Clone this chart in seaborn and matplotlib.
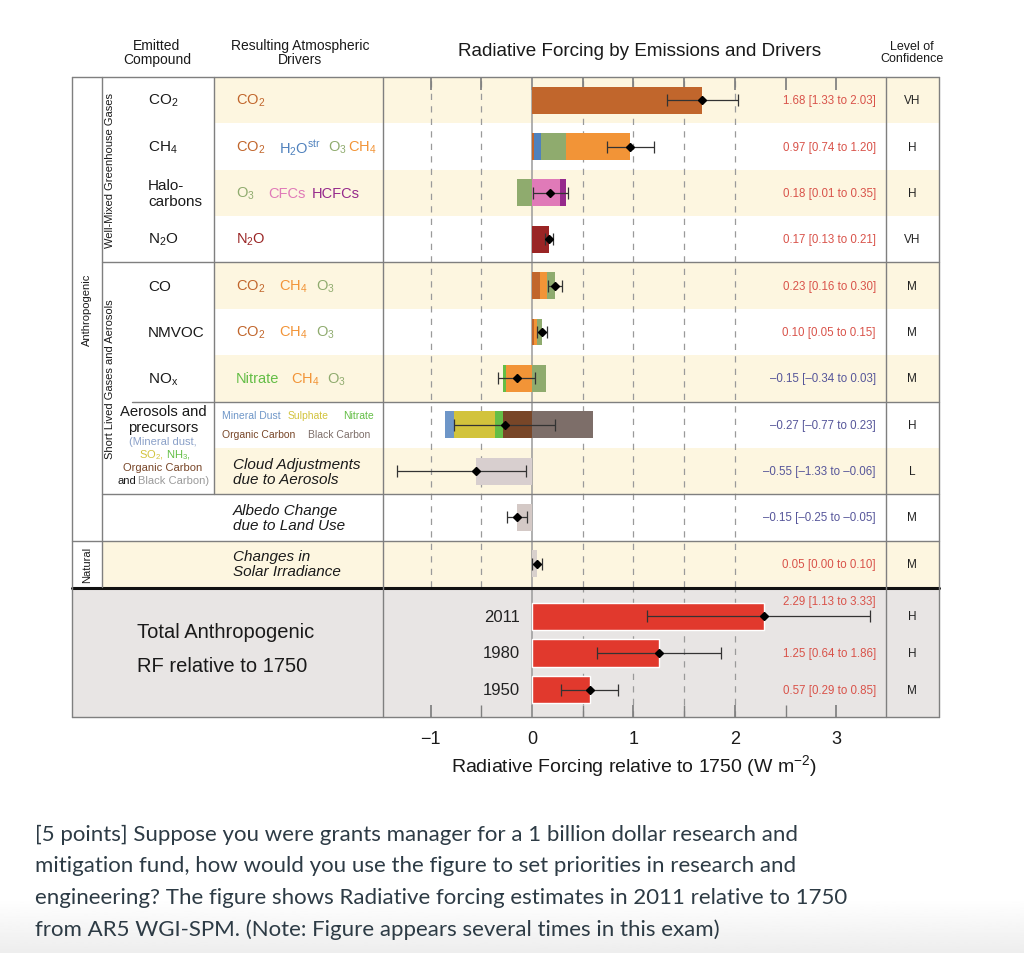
import numpy as np
import pandas as pd
import seaborn as sns
import matplotlib.pyplot as plt
from matplotlib.lines import Line2D
from matplotlib.patches import Rectangle
from matplotlib.transforms import blended_transform_factory

# ---- data ----
rows = ["CO2", "CH4", "Halocarbons", "N2O", "CO", "NMVOC", "NOx",
        "Aerosols", "Cloud", "Albedo", "Solar"]
best = [1.68, 0.97, 0.18, 0.17, 0.23, 0.10, -0.15, -0.27, -0.55, -0.15, 0.05]
low = [1.33, 0.74, 0.01, 0.13, 0.16, 0.05, -0.34, -0.77, -1.33, -0.25, 0.00]
high = [2.03, 1.20, 0.35, 0.21, 0.30, 0.15, 0.03, 0.23, -0.06, -0.05, 0.10]
confidence = ["VH", "H", "H", "VH", "M", "M", "M", "H", "L", "M", "M"]

# driver contributions, stacked outwards from zero in list order
drivers = {
    "CO2": [("CO2", 1.68)],
    "CH4": [("CO2", 0.02), ("H2O", 0.07), ("O3", 0.24), ("CH4", 0.64)],
    "Halocarbons": [("O3", -0.15), ("CFC", 0.28), ("HCFC", 0.05)],
    "N2O": [("N2O", 0.17)],
    "CO": [("CO2", 0.08), ("CH4", 0.07), ("O3", 0.08)],
    "NMVOC": [("CO2", 0.02), ("CH4", 0.03), ("O3", 0.05)],
    "NOx": [("CH4", -0.26), ("Nitrate", -0.03), ("O3", 0.14)],
    "Aerosols": [("OC", -0.29), ("Nitrate", -0.08), ("Sulphate", -0.40),
                 ("Dust", -0.09), ("BC", 0.60)],
    "Cloud": [("Cloud", -0.55)],
    "Albedo": [("Albedo", -0.15)],
    "Solar": [("Solar", 0.05)],
}

years = ["2011", "1980", "1950"]
total_best = [2.29, 1.25, 0.57]
total_low = [1.13, 0.64, 0.29]
total_high = [3.33, 1.86, 0.85]
total_conf = ["H", "H", "M"]

colors = {
    "CO2": "#c1662c", "H2O": "#4f81bd", "O3": "#8fab6e", "CH4": "#f29437",
    "CFC": "#e07ab8", "HCFC": "#962a8c", "N2O": "#9a2525",
    "Nitrate": "#64be46", "Dust": "#6e96c8", "Sulphate": "#d2c33c",
    "OC": "#784628", "BC": "#7d6e69", "Cloud": "#d8cfcf",
    "Albedo": "#d4c9c6", "Solar": "#d8d0cc",
}
CREAM = "#fdf6e0"
GREYBG = "#e8e5e4"
LINE = "#7f7f7f"
POS = "#d9534a"
NEG = "#56569a"

sns.set_theme(style="white")
plt.rcParams["font.family"] = ["Liberation Sans", "DejaVu Sans"]
plt.rcParams["mathtext.default"] = "regular"

W, H = 1024, 954
fig = plt.figure(figsize=(W / 100, H / 100), dpi=100)


def fx(x):
    return x / W


def fy(y):
    return 1 - y / H


def T(x, y, s, **kw):
    kw.setdefault("ha", "left")
    kw.setdefault("va", "center")
    kw.setdefault("color", "#1a1a1a")
    return fig.text(fx(x), fy(y), s, **kw)


def hline(y, x0, x1, lw=1.0, color=LINE):
    fig.add_artist(Line2D([fx(x0), fx(x1)], [fy(y), fy(y)],
                          transform=fig.transFigure, color=color, lw=lw, zorder=2))


def vline(x, y0, y1, lw=1.0, color=LINE):
    fig.add_artist(Line2D([fx(x), fx(x)], [fy(y0), fy(y1)],
                          transform=fig.transFigure, color=color, lw=lw, zorder=2))


def box(x0, y0, x1, y1, color):
    fig.add_artist(Rectangle((fx(x0), fy(y1)), (x1 - x0) / W, (y1 - y0) / H,
                             transform=fig.transFigure, facecolor=color,
                             lw=0, zorder=-1))


def fmt(v):
    s = f"{abs(v):.2f}"
    return "\u2013" + s if v < 0 else s


# layout (pixels)
TOP, MID, BOT = 78, 588, 718
XL, XA, XD, XP, XC, XR = 72, 102, 214, 383, 886, 939
N = len(rows)
RH = (MID - TOP) / N
XLIM = (-1.47, 3.49)


def edge(i):
    return TOP + i * RH


# ---- backgrounds ----
for i in range(0, N - 1, 2):
    box(XD, edge(i), XR, edge(i + 1), CREAM)
box(XA, edge(N - 1), XR, MID, CREAM)
box(XL, MID, XR, BOT, GREYBG)

# ---- main axes (individual drivers) ----
ax = fig.add_axes([fx(XP), fy(MID), (XC - XP) / W, (MID - TOP) / H])
ax.set_facecolor("none")
for i, r in enumerate(rows):
    pos, neg = 0.0, 0.0
    for d, v in drivers[r]:
        left = pos if v >= 0 else neg
        ax.barh(i, v, left=left, height=0.58, color=colors[d], lw=0, zorder=2)
        if v >= 0:
            pos += v
        else:
            neg += v
b = np.array(best)
ax.errorbar(b, np.arange(N), xerr=[b - np.array(low), np.array(high) - b],
            fmt="D", color="black", ms=4.5, ecolor="#333333", elinewidth=0.9,
            capsize=4.5, capthick=0.9, zorder=3)
for i in range(N):
    ax.text(3.39, i, f"{fmt(best[i])} [{fmt(low[i])} to {fmt(high[i])}]",
            ha="right", va="center", fontsize=8.3,
            color=POS if best[i] > 0 else NEG)
for v in [-1, -0.5, 0.5, 1, 1.5, 2]:
    ax.axvline(v, color="#9a9a9a", ls=(0, (5, 5)), lw=0.9, zorder=0)
ax.axvline(0, color="#9a9a9a", lw=1.1, zorder=1)
ax.set_xlim(*XLIM)
ax.set_ylim(N - 0.5, -0.5)
ax.set_yticks([])
ax.set_xticks(np.arange(-1, 3.01, 0.5))
ax.xaxis.set_ticks_position("top")
ax.tick_params(axis="x", which="both", direction="in", length=9, top=True,
               bottom=False, labeltop=False, labelbottom=False, color=LINE)
for s in ax.spines.values():
    s.set_visible(False)

# ---- totals axes ----
axb = fig.add_axes([fx(XP), fy(BOT), (XC - XP) / W, (BOT - MID - 2) / H])
axb.set_facecolor("none")
df = pd.DataFrame({"year": years, "rf": total_best})
sns.barplot(data=df, x="rf", y="year", orient="h", color="#e1392d",
            saturation=1, width=0.74, ax=axb, zorder=2)
tb = np.array(total_best)
axb.errorbar(tb, np.arange(3), xerr=[tb - np.array(total_low), np.array(total_high) - tb],
             fmt="D", color="black", ms=4.5, ecolor="#333333", elinewidth=0.9,
             capsize=4.5, capthick=0.9, zorder=3)
for v in [0.5, 1, 1.5, 2]:
    axb.axvline(v, color="#9a9a9a", ls=(0, (5, 5)), lw=0.9, zorder=0)
axb.axvline(0, color="#9a9a9a", lw=1.1, zorder=1)
for j, yr in enumerate(years):
    axb.text(-0.12, j, yr, ha="right", va="center", fontsize=12, color="#222222")
    axb.text(3.39, -0.42 if j == 0 else j,
             f"{fmt(total_best[j])} [{fmt(total_low[j])} to {fmt(total_high[j])}]",
             ha="right", va="center", fontsize=8.3, color=POS)
axb.set_xlim(*XLIM)
axb.set_ylim(2.75, -0.75)
axb.set_yticks([])
axb.set_ylabel("")
axb.set_xticks([-1, 0, 1, 2, 3])
axb.set_xticks(np.arange(-1, 3.01, 0.5), minor=True)
axb.tick_params(axis="x", which="both", direction="in", length=9, bottom=True,
                color=LINE, labelsize=13, labelcolor="#1a1a1a", pad=9)
axb.set_xlabel("Radiative Forcing relative to 1750 (W m$^{-2}$)", fontsize=14,
               color="#1a1a1a", labelpad=4)
for s in axb.spines.values():
    s.set_visible(False)

# ---- table lines ----
hline(TOP, XL, XR)
hline(edge(4), XA, XR)
hline(edge(7), 132, XR)
hline(edge(9), XA, XR)
hline(edge(10), XL, XR)
hline(MID + 1, XL, XR, lw=2.2, color="#111111")
hline(BOT, XL, XR)
vline(XL, TOP, BOT)
vline(XA, TOP, MID)
vline(XD, TOP, edge(9))
vline(XP, TOP, BOT)
vline(XC, TOP, BOT)
vline(XR, TOP, BOT)

# ---- headers ----
T(157, 53, "Emitted\nCompound", ha="center", fontsize=10, linespacing=1.05)
T(300, 53, "Resulting Atmospheric\nDrivers", ha="center", fontsize=10, linespacing=1.05)
T(640, 52, "Radiative Forcing by Emissions and Drivers", ha="center", fontsize=13.6)
T(912, 53, "Level of\nConfidence", ha="center", fontsize=9, linespacing=1.05)

# rotated group labels
T(87, (TOP + edge(10)) / 2, "Anthropogenic", ha="center", rotation=90, fontsize=8)
T(87, (edge(10) + MID) / 2, "Natural", ha="center", rotation=90, fontsize=8)
T(110, (TOP + edge(4)) / 2, "Well-Mixed Greenhouse Gases", ha="center", rotation=90, fontsize=8)
T(110, (edge(4) + edge(9)) / 2, "Short Lived Gases and Aerosols", ha="center", rotation=90, fontsize=8)

tr = blended_transform_factory(fig.transFigure, ax.transData)
trb = blended_transform_factory(fig.transFigure, axb.transData)

compounds = ["CO$_2$", "CH$_4$", "Halo-\ncarbons", "N$_2$O", "CO", "NMVOC", "NO$_x$"]
for i, c in enumerate(compounds):
    fig.text(fx(148), i, c, transform=tr, ha="left", va="center", fontsize=11,
             color="#1a1a1a", linespacing=1.15)

# aerosol precursor label
T(163, 412, "Aerosols and", ha="center", fontsize=10.7)
T(163, 428, "precursors", ha="center", fontsize=10.7)
T(163, 442, "(Mineral dust,", ha="center", fontsize=8, color="#8aa0c8")
T(164, 455, "SO$_2$,", ha="right", fontsize=8, color=colors["Sulphate"])
T(166, 455, "NH$_3$,", ha="left", fontsize=8, color=colors["Nitrate"])
T(163, 468, "Organic Carbon", ha="center", fontsize=8, color=colors["OC"])
T(136, 481, "and", ha="right", fontsize=8)
T(138, 481, "Black Carbon)", ha="left", fontsize=8, color="#9a9a9a")

# driver column
driver_text = {
    0: [(236, "CO$_2$", "CO2")],
    1: [(236, "CO$_2$", "CO2"), (279, "H$_2$O$^{str}$", "H2O"), (328, "O$_3$", "O3"),
        (348, "CH$_4$", "CH4")],
    2: [(236, "O$_3$", "O3"), (268, "CFCs", "CFC"), (312, "HCFCs", "HCFC")],
    3: [(236, "N$_2$O", "N2O")],
    4: [(236, "CO$_2$", "CO2"), (279, "CH$_4$", "CH4"), (316, "O$_3$", "O3")],
    5: [(236, "CO$_2$", "CO2"), (279, "CH$_4$", "CH4"), (316, "O$_3$", "O3")],
    6: [(236, "Nitrate", "Nitrate"), (291, "CH$_4$", "CH4"), (327, "O$_3$", "O3")],
}
for i, parts in driver_text.items():
    for x, s, key in parts:
        fig.text(fx(x), i, s, transform=tr, ha="left", va="center", fontsize=10.5,
                 color=colors[key])
for x, s, key in [(222, "Mineral Dust", "Dust"), (288, "Sulphate", "Sulphate"),
                  (343, "Nitrate", "Nitrate")]:
    fig.text(fx(x), 7 - 0.2, s, transform=tr, ha="left", va="center", fontsize=7.5,
             color=colors[key])
for x, s, key in [(222, "Organic Carbon", "OC"), (308, "Black Carbon", "BC")]:
    fig.text(fx(x), 7 + 0.2, s, transform=tr, ha="left", va="center", fontsize=7.5,
             color=colors[key])
for i, s in [(8, "Cloud Adjustments\ndue to Aerosols"),
             (9, "Albedo Change\ndue to Land Use"),
             (10, "Changes in\nSolar Irradiance")]:
    fig.text(fx(233), i, s, transform=tr, ha="left", va="center", fontsize=11,
             style="italic", color="#1a1a1a", linespacing=1.1)

# confidence column
for i, c in enumerate(confidence):
    fig.text(fx(912), i, c, transform=tr, ha="center", va="center", fontsize=8.5,
             color="#222222")
for j, c in enumerate(total_conf):
    fig.text(fx(912), j, c, transform=trb, ha="center", va="center", fontsize=8.5,
             color="#222222")

T(137, 632, "Total Anthropogenic", fontsize=14.5)
T(137, 667, "RF relative to 1750", fontsize=14.5)

# ---- question text below the figure ----
question = [
    "[5 points] Suppose you were grants manager for a 1 billion dollar research and",
    "mitigation fund, how would you use the figure to set priorities in research and",
    "engineering? The figure shows Radiative forcing estimates in 2011 relative to 1750",
    "from AR5 WGI-SPM. (Note: Figure appears several times in this exam)",
]
for k, line in enumerate(question):
    T(35, 835 + k * 31.5, line, fontsize=16, color="#2d3b45",
      family=["Lato", "DejaVu Sans"])

# faint grey fade at the bottom of the page
bg = fig.add_axes([0, 0, 1, 55 / H], zorder=-5)
bg.imshow(np.linspace(0.93, 1.0, 50)[:, None], aspect="auto", cmap="gray",
          vmin=0, vmax=1, origin="lower")
bg.axis("off")

fig.savefig("out.png", dpi=100)
